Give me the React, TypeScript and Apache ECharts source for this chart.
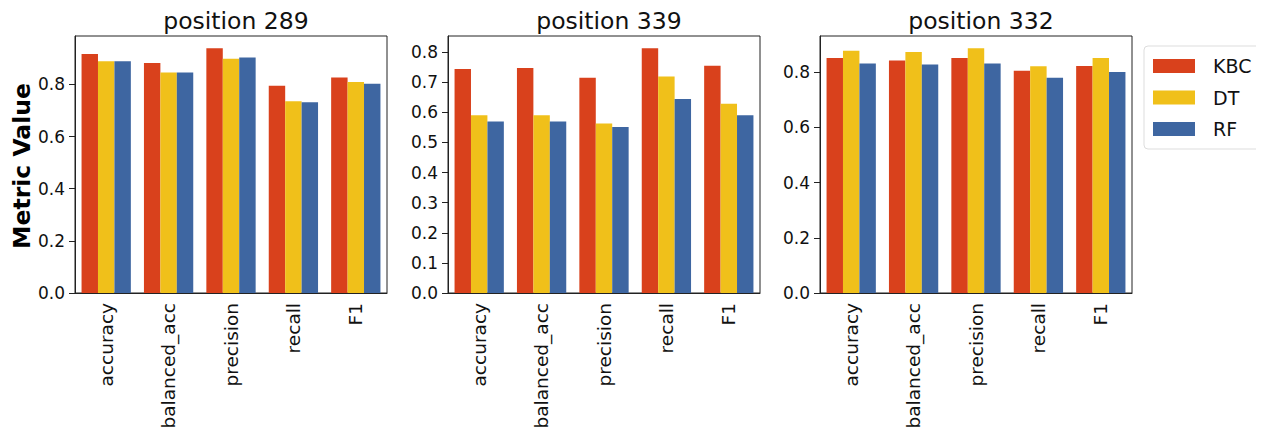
import React, { useEffect, useRef } from "react";
import * as echarts from "echarts";

const categories = ["accuracy", "balanced_acc", "precision", "recall", "F1"];
const models = ["KBC", "DT", "RF"];
const colors = ["#d9411c", "#f0c01a", "#3e66a1"];

const titles = ["position 289", "position 339", "position 332"];

const p289KBC = [0.917, 0.882, 0.939, 0.795, 0.827];
const p289DT = [0.889, 0.846, 0.899, 0.736, 0.809];
const p289RF = [0.889, 0.846, 0.903, 0.732, 0.803];

const p339KBC = [0.744, 0.747, 0.715, 0.813, 0.755];
const p339DT = [0.59, 0.59, 0.563, 0.719, 0.629];
const p339RF = [0.57, 0.57, 0.551, 0.644, 0.59];

const p332KBC = [0.852, 0.843, 0.852, 0.805, 0.823];
const p332DT = [0.878, 0.873, 0.887, 0.822, 0.852];
const p332RF = [0.832, 0.828, 0.832, 0.78, 0.801];

const ticks289 = [0.0, 0.2, 0.4, 0.6, 0.8];
const ticks339 = [0.0, 0.1, 0.2, 0.3, 0.4, 0.5, 0.6, 0.7, 0.8];
const ticks332 = [0.0, 0.2, 0.4, 0.6, 0.8];

const panels = [
  { title: titles[0], data: [p289KBC, p289DT, p289RF], ticks: ticks289 },
  { title: titles[1], data: [p339KBC, p339DT, p339RF], ticks: ticks339 },
  { title: titles[2], data: [p332KBC, p332DT, p332RF], ticks: ticks332 },
];

const FONT = "DejaVu Sans";
const gridLefts = [75, 448, 820];
const gridWidth = 312;
const gridTop = 36;
const gridHeight = 257;

export default function App() {
  const ref = useRef<HTMLDivElement>(null);
  useEffect(() => {
    if (!ref.current) return;
    const chart = echarts.init(ref.current, null, { renderer: "svg" });
    const grids: any[] = [];
    const xAxes: any[] = [];
    const yAxes: any[] = [];
    const series: any[] = [];
    const titleOpts: any[] = [];
    panels.forEach((p, i) => {
      grids.push({
        left: gridLefts[i],
        top: gridTop,
        width: gridWidth,
        height: gridHeight,
        show: true,
        borderColor: "#222",
        borderWidth: 1,
        backgroundColor: "#fff",
      });
      const maxVal = Math.max(...p.data.flat()) * 1.05;
      xAxes.push({
        type: "category",
        gridIndex: i,
        data: categories,
        axisLine: { lineStyle: { color: "#222", width: 1 } },
        axisTick: { alignWithLabel: true, length: 6, lineStyle: { color: "#222" } },
        axisLabel: {
          rotate: 90,
          interval: 0,
          margin: 10,
          color: "#111",
          fontFamily: FONT,
          fontSize: 18.5,
        },
      });
      yAxes.push({
        type: "value",
        gridIndex: i,
        min: 0,
        max: maxVal,
        splitLine: { show: false },
        axisLine: { show: true, lineStyle: { color: "#222", width: 1 } },
        axisTick: { show: true, length: 6, lineStyle: { color: "#222" }, customValues: p.ticks },
        axisLabel: {
          customValues: p.ticks,
          margin: 10,
          color: "#111",
          fontFamily: FONT,
          fontSize: 17,
          formatter: (v: number) => v.toFixed(1),
        },
      });
      p.data.forEach((vals, k) => {
        series.push({
          type: "bar",
          name: models[k],
          xAxisIndex: i,
          yAxisIndex: i,
          data: vals,
          barGap: "0%",
          barCategoryGap: "21%",
          itemStyle: { color: colors[k] },
        });
      });
      titleOpts.push({
        text: p.title,
        left: gridLefts[i] + gridWidth / 2,
        top: 4,
        textAlign: "center",
        textStyle: { fontFamily: FONT, fontSize: 23.5, fontWeight: "normal", color: "#111" },
      });
    });

    chart.setOption({
      animation: false,
      backgroundColor: "#fff",
      title: titleOpts,
      grid: grids,
      xAxis: xAxes,
      yAxis: yAxes,
      series,
      legend: {
        data: models,
        orient: "vertical",
        left: 1144,
        top: 46,
        padding: [10, 14, 10, 9],
        itemWidth: 42,
        itemHeight: 14,
        itemGap: 11.5,
        icon: "rect",
        borderColor: "#ddd",
        borderWidth: 1,
        borderRadius: 4,
        textStyle: {
          fontFamily: FONT,
          fontSize: 19,
          color: "#111",
          lineHeight: 20,
          padding: [0, 0, 0, 13],
        },
      },
      graphic: [
        {
          type: "text",
          x: 22,
          y: 166,
          rotation: Math.PI / 2,
          style: {
            text: "Metric Value",
            fontFamily: FONT,
            fontSize: 23.5,
            fontWeight: "bold",
            fill: "#000",
            align: "center",
            verticalAlign: "middle",
          },
        },
      ],
    });
    return () => chart.dispose();
  }, []);
  return <div ref={ref} style={{ width: 1264, height: 440, margin: -8 }} />;
}
